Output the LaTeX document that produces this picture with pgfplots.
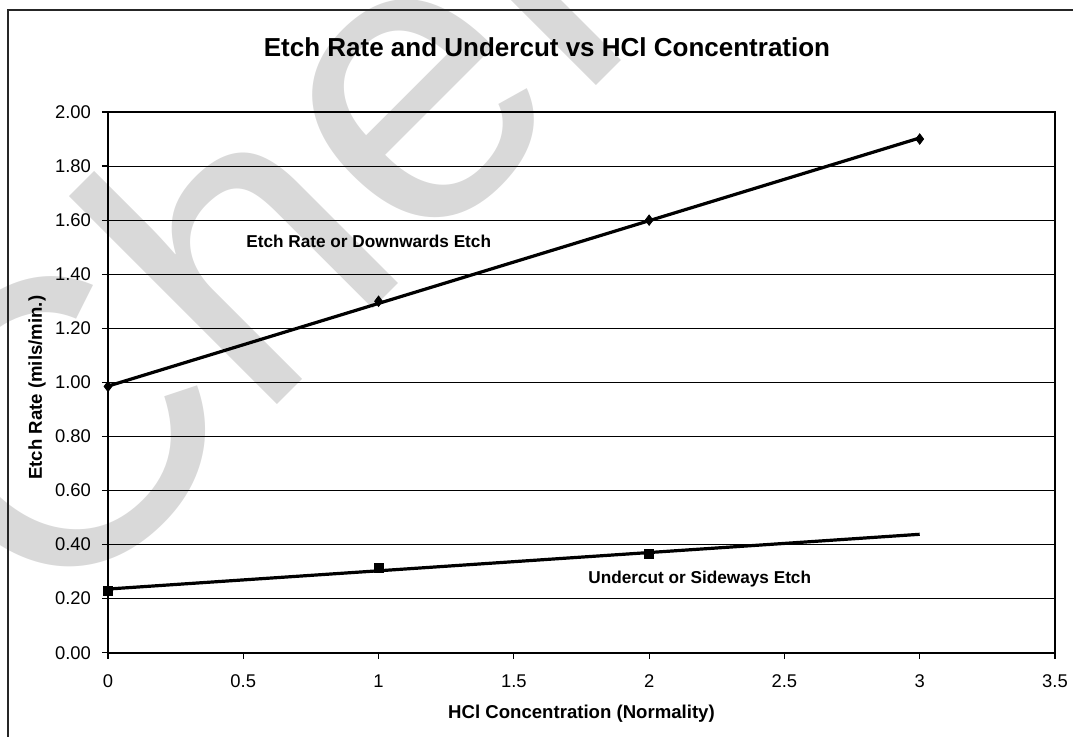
\documentclass[border=0pt]{standalone}
\usepackage{pgfplots}
\pgfplotsset{compat=1.18}
\usepackage{fontspec}
\setmainfont{Liberation Sans}
\begin{document}
\begin{tikzpicture}
\path[use as bounding box] (0pt,0pt) rectangle (536.5pt,368pt);
% watermark
\node[rotate=45, anchor=base west, inner sep=0pt, text=black!15,
      font=\fontsize{203}{203}\selectfont] at (25pt,52pt) {Chemcut};
% chart area border (left and top visible)
\draw[line width=1pt, black!85] (3.75pt,-10pt) -- (3.75pt,363pt) -- (560pt,363pt);
\begin{axis}[
  at={(54pt,41.65pt)}, anchor=south west,
  scale only axis, width=473.5pt, height=270.35pt,
  xmin=0, xmax=3.5, ymin=0, ymax=2,
  xtick={0,0.5,1,1.5,2,2.5,3,3.5},
  ytick={0,0.2,0.4,0.6,0.8,1.0,1.2,1.4,1.6,1.8,2.0},
  tick label style={font=\fontsize{9.2}{11}\selectfont},
  yticklabel style={xshift=-2pt, /pgf/number format/.cd, fixed, fixed zerofill, precision=2},
  xticklabel style={yshift=-4.5pt, /pgf/number format/.cd, fixed},
  /pgf/number format/assume math mode=true,
  tick align=outside, major tick length=3pt,
  xtick pos=bottom, ytick pos=left,
  tick style={black, line width=0.6pt},
  ymajorgrids, major grid style={black, line width=0.5pt},
  axis line style={black, line width=1pt},
  title={Etch Rate and Undercut vs HCl Concentration},
  title style={font=\bfseries\fontsize{13}{15}\selectfont, at={(axis description cs:0.4636,1)}, anchor=center, yshift=26.5pt},
  xlabel={HCl Concentration (Normality)},
  xlabel style={font=\bfseries\fontsize{9.3}{11}\selectfont, at={(axis description cs:0.5,0)}, anchor=center, yshift=-30.6pt},
  ylabel={Etch Rate (mils/min.)},
  ylabel style={font=\bfseries\fontsize{9.3}{11}\selectfont, at={(axis description cs:-0.075,0.49)}, anchor=center},
  clip=false,
]
\addplot[only marks, mark=diamond*, mark size=2.6pt, black] coordinates {(0,0.985) (1,1.30) (2,1.60) (3,1.90)};
\addplot[black, line width=1.6pt, no marks] coordinates {(0,0.986) (3,1.904)};
\addplot[only marks, mark=square*, mark size=2.3pt, black] coordinates {(0,0.23) (1,0.315) (2,0.365)};
\addplot[black, line width=1.6pt, no marks] coordinates {(0,0.2355) (3,0.438)};
\node[anchor=west, inner sep=0pt, font=\bfseries\fontsize{8.6}{10}\selectfont] at (axis cs:0.51,1.52) {Etch Rate or Downwards Etch};
\node[anchor=east, inner sep=0pt, font=\bfseries\fontsize{8.6}{10}\selectfont] at (axis cs:2.60,0.273) {Undercut or Sideways Etch};
\end{axis}
\end{tikzpicture}
\end{document}
